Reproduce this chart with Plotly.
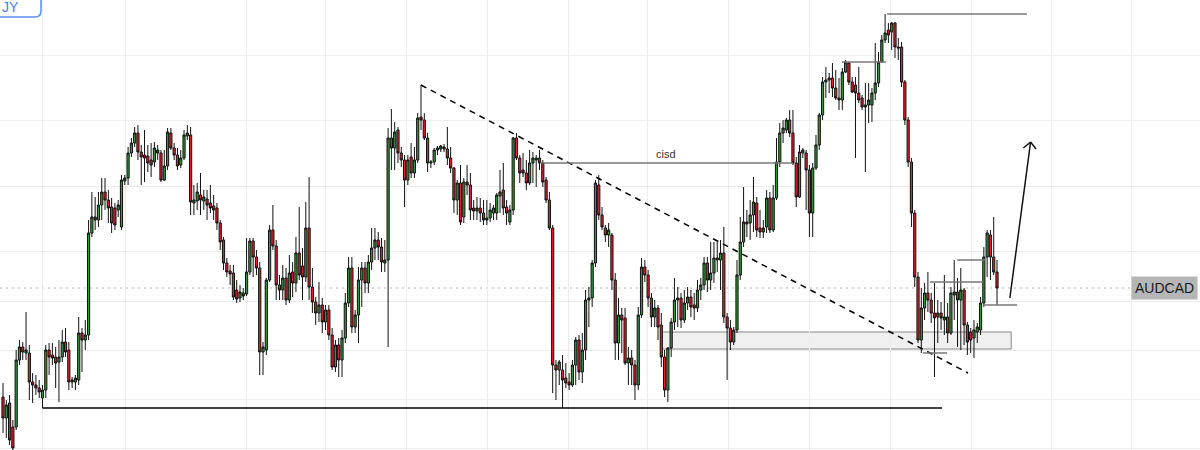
import plotly.graph_objects as go

# ---------------- data (prices in pips, 1 pip = 0.0001) ----------------
PIP = 1e-4
SYMBOL = "AUDCAD"
TOP_LEFT_TAB = "JY"
CISD_TEXT = "cisd"

open_pips = [
    9603, 9582, 9597, 9573, 9573, 9640, 9653, 9647, 9647, 9618,  # 0
    9615, 9612, 9602, 9610, 9650, 9645, 9643, 9638, 9643, 9658,  # 10
    9650, 9620, 9618, 9620, 9667, 9660, 9665, 9767, 9783, 9780,  # 20
    9795, 9808, 9800, 9793, 9792, 9790, 9773, 9819, 9822, 9847,  # 30
    9857, 9867, 9848, 9845, 9844, 9840, 9838, 9850, 9847, 9820,  # 40
    9834, 9867, 9852, 9845, 9835, 9842, 9864, 9865, 9797, 9799,  # 50
    9805, 9799, 9801, 9797, 9794, 9792, 9777, 9760, 9737, 9729,  # 60
    9727, 9710, 9702, 9707, 9706, 9728, 9759, 9743, 9732, 9648,  # 70
    9650, 9720, 9770, 9754, 9715, 9710, 9722, 9700, 9728, 9717,  # 80
    9747, 9734, 9723, 9772, 9713, 9698, 9687, 9695, 9678, 9690,  # 90
    9665, 9633, 9655, 9640, 9662, 9697, 9732, 9673, 9685, 9720,  # 100
    9732, 9717, 9738, 9752, 9760, 9753, 9737, 9740, 9862, 9852,  # 110
    9870, 9847, 9840, 9820, 9843, 9827, 9840, 9883, 9880, 9862,  # 120
    9837, 9838, 9850, 9851, 9853, 9851, 9842, 9832, 9800, 9817,  # 130
    9783, 9818, 9815, 9792, 9789, 9792, 9787, 9780, 9782, 9787,  # 140
    9787, 9804, 9810, 9793, 9778, 9790, 9862, 9842, 9830, 9827,  # 150
    9817, 9837, 9840, 9842, 9837, 9820, 9800, 9772, 9635, 9630,  # 160
    9630, 9622, 9618, 9615, 9635, 9660, 9628, 9650, 9700, 9702,  # 170
    9737, 9815, 9785, 9772, 9765, 9765, 9720, 9657, 9685, 9682,  # 180
    9637, 9642, 9635, 9615, 9685, 9733, 9725, 9702, 9683, 9692,  # 190
    9675, 9643, 9610, 9652, 9678, 9700, 9702, 9680, 9697, 9703,  # 200
    9695, 9692, 9710, 9715, 9737, 9720, 9727, 9742, 9740, 9747,  # 210
    9683, 9672, 9658, 9670, 9725, 9758, 9778, 9777, 9785, 9797,  # 220
    9772, 9768, 9773, 9802, 9770, 9802, 9838, 9867, 9870, 9880,  # 230
    9867, 9837, 9803, 9847, 9847, 9830, 9787, 9832, 9855, 9885,  # 240
    9918, 9920, 9922, 9912, 9902, 9900, 9928, 9937, 9918, 9915,  # 250
    9907, 9902, 9893, 9895, 9895, 9907, 9917, 9938, 9960, 9970,  # 260
    9968, 9977, 9953, 9953, 9918, 9880, 9838, 9787, 9723, 9660,  # 270
    9692, 9707, 9700, 9687, 9683, 9687, 9680, 9683, 9667, 9705,  # 280
    9708, 9700, 9710, 9675, 9668, 9662, 9668, 9670, 9697, 9743,  # 290
    9765, 9743, 9728,
]

high_pips = [
    9617, 9600, 9605, 9580, 9650, 9660, 9658, 9688, 9655, 9627,
    9625, 9620, 9615, 9655, 9657, 9657, 9653, 9660, 9670, 9672,
    9658, 9623, 9625, 9683, 9672, 9680, 9780, 9808, 9803, 9808,
    9822, 9822, 9810, 9802, 9797, 9800, 9825, 9825, 9853, 9862,
    9873, 9875, 9855, 9870, 9855, 9857, 9858, 9855, 9850, 9850,
    9872, 9872, 9857, 9852, 9850, 9870, 9875, 9873, 9815, 9817,
    9827, 9810, 9810, 9815, 9805, 9797, 9780, 9763, 9742, 9735,
    9735, 9720, 9715, 9712, 9762, 9762, 9762, 9750, 9738, 9658,
    9722, 9775, 9795, 9760, 9725, 9735, 9732, 9745, 9738, 9763,
    9793, 9752, 9798, 9823, 9732, 9703, 9718, 9702, 9695, 9695,
    9672, 9660, 9662, 9670, 9707, 9743, 9743, 9690, 9733, 9738,
    9738, 9745, 9772, 9772, 9768, 9762, 9760, 9872, 9891, 9878,
    9873, 9853, 9845, 9845, 9857, 9853, 9887, 9915, 9887, 9867,
    9840, 9852, 9854, 9855, 9856, 9873, 9853, 9833, 9820, 9835,
    9822, 9835, 9827, 9800, 9803, 9802, 9800, 9800, 9797, 9795,
    9807, 9830, 9837, 9800, 9795, 9863, 9867, 9845, 9847, 9840,
    9850, 9848, 9845, 9850, 9840, 9823, 9808, 9775, 9640, 9640,
    9645, 9637, 9627, 9640, 9663, 9665, 9667, 9710, 9713, 9740,
    9820, 9825, 9793, 9775, 9777, 9767, 9727, 9702, 9692, 9692,
    9653, 9650, 9640, 9693, 9742, 9740, 9730, 9707, 9700, 9695,
    9687, 9650, 9653, 9682, 9722, 9713, 9707, 9710, 9713, 9710,
    9707, 9720, 9722, 9743, 9743, 9758, 9758, 9758, 9760, 9773,
    9687, 9680, 9673, 9740, 9783, 9813, 9790, 9800, 9823, 9803,
    9790, 9780, 9810, 9808, 9815, 9862, 9877, 9880, 9882, 9890,
    9890, 9843, 9855, 9852, 9850, 9835, 9837, 9865, 9887, 9923,
    9933, 9927, 9937, 9930, 9922, 9932, 9940, 9938, 9923, 9923,
    9933, 9905, 9917, 9917, 9912, 9957, 9948, 9965, 9986, 9977,
    9978, 9978, 9962, 9958, 9920, 9883, 9842, 9790, 9728, 9712,
    9717, 9728, 9707, 9717, 9700, 9698, 9725, 9697, 9713, 9740,
    9722, 9732, 9712, 9678, 9672, 9680, 9677, 9703, 9753, 9770,
    9770, 9783, 9740,
]

low_pips = [
    9567, 9562, 9555, 9548, 9570, 9635, 9640, 9640, 9600, 9597,
    9605, 9602, 9592, 9602, 9625, 9635, 9612, 9598, 9638, 9643,
    9610, 9612, 9610, 9615, 9628, 9650, 9660, 9763, 9770, 9773,
    9780, 9790, 9777, 9767, 9770, 9783, 9770, 9815, 9815, 9843,
    9853, 9840, 9815, 9818, 9828, 9823, 9833, 9840, 9818, 9819,
    9830, 9850, 9840, 9830, 9832, 9840, 9860, 9785, 9785, 9790,
    9785, 9790, 9780, 9787, 9780, 9770, 9750, 9730, 9723, 9715,
    9700, 9697, 9698, 9700, 9704, 9725, 9723, 9725, 9625, 9625,
    9645, 9718, 9750, 9700, 9700, 9700, 9695, 9697, 9703, 9708,
    9720, 9700, 9718, 9700, 9687, 9675, 9678, 9667, 9670, 9660,
    9630, 9628, 9623, 9623, 9657, 9693, 9667, 9667, 9657, 9693,
    9707, 9707, 9730, 9740, 9740, 9728, 9728, 9653, 9830, 9830,
    9837, 9833, 9793, 9815, 9822, 9822, 9837, 9870, 9860, 9828,
    9832, 9835, 9845, 9848, 9848, 9835, 9827, 9787, 9785, 9775,
    9777, 9805, 9780, 9780, 9780, 9778, 9775, 9775, 9778, 9780,
    9780, 9787, 9785, 9775, 9775, 9785, 9840, 9817, 9823, 9810,
    9815, 9817, 9813, 9830, 9813, 9797, 9770, 9607, 9600, 9615,
    9592, 9612, 9610, 9613, 9615, 9620, 9617, 9640, 9673, 9693,
    9733, 9780, 9770, 9758, 9753, 9710, 9640, 9640, 9647, 9635,
    9615, 9615, 9600, 9610, 9682, 9718, 9693, 9673, 9673, 9660,
    9633, 9603, 9598, 9643, 9670, 9673, 9672, 9677, 9690, 9683,
    9680, 9688, 9700, 9710, 9708, 9710, 9717, 9728, 9710, 9677,
    9620, 9650, 9655, 9667, 9720, 9753, 9763, 9760, 9768, 9763,
    9762, 9762, 9767, 9767, 9768, 9800, 9833, 9857, 9867, 9863,
    9835, 9793, 9802, 9842, 9790, 9763, 9763, 9830, 9850, 9880,
    9902, 9907, 9903, 9900, 9890, 9890, 9927, 9915, 9907, 9842,
    9897, 9890, 9828, 9877, 9878, 9900, 9913, 9937, 9957, 9957,
    9950, 9942, 9940, 9913, 9875, 9833, 9773, 9713, 9657, 9647,
    9680, 9688, 9677, 9623, 9657, 9670, 9665, 9657, 9665, 9680,
    9653, 9650, 9655, 9645, 9647, 9642, 9657, 9665, 9693, 9723,
    9720, 9725, 9695,
]

close_pips = [
    9582, 9595, 9560, 9552, 9640, 9653, 9648, 9650, 9618, 9615,
    9612, 9608, 9610, 9650, 9643, 9642, 9637, 9643, 9658, 9648,
    9618, 9618, 9622, 9667, 9660, 9665, 9767, 9783, 9780, 9795,
    9808, 9800, 9792, 9777, 9775, 9795, 9820, 9822, 9847, 9857,
    9867, 9848, 9843, 9842, 9837, 9835, 9852, 9847, 9820, 9834,
    9868, 9852, 9845, 9834, 9842, 9865, 9867, 9798, 9800, 9808,
    9800, 9803, 9795, 9792, 9790, 9777, 9758, 9737, 9728, 9726,
    9703, 9701, 9708, 9704, 9728, 9759, 9743, 9732, 9648, 9653,
    9720, 9770, 9754, 9715, 9710, 9722, 9700, 9727, 9717, 9747,
    9725, 9723, 9772, 9713, 9698, 9687, 9695, 9678, 9690, 9665,
    9633, 9655, 9640, 9662, 9697, 9732, 9673, 9685, 9720, 9732,
    9717, 9738, 9752, 9760, 9753, 9738, 9740, 9862, 9852, 9868,
    9847, 9840, 9820, 9840, 9827, 9840, 9882, 9880, 9862, 9837,
    9838, 9850, 9852, 9854, 9851, 9842, 9832, 9800, 9817, 9778,
    9818, 9815, 9790, 9789, 9792, 9787, 9780, 9782, 9790, 9792,
    9805, 9808, 9792, 9787, 9790, 9862, 9842, 9827, 9827, 9817,
    9837, 9842, 9842, 9837, 9818, 9800, 9772, 9635, 9630, 9638,
    9620, 9617, 9615, 9635, 9660, 9628, 9650, 9700, 9702, 9737,
    9817, 9785, 9773, 9765, 9770, 9720, 9657, 9685, 9680, 9637,
    9642, 9635, 9615, 9685, 9733, 9725, 9702, 9683, 9692, 9673,
    9643, 9610, 9652, 9678, 9700, 9702, 9680, 9697, 9703, 9693,
    9692, 9710, 9715, 9737, 9720, 9727, 9742, 9740, 9747, 9683,
    9672, 9658, 9670, 9725, 9758, 9778, 9776, 9785, 9798, 9770,
    9768, 9772, 9802, 9770, 9802, 9838, 9867, 9872, 9880, 9867,
    9837, 9803, 9848, 9850, 9830, 9787, 9832, 9855, 9885, 9918,
    9920, 9922, 9912, 9902, 9900, 9928, 9938, 9918, 9908, 9907,
    9900, 9893, 9895, 9900, 9907, 9917, 9938, 9960, 9967, 9965,
    9977, 9953, 9952, 9918, 9880, 9838, 9787, 9723, 9660, 9692,
    9707, 9700, 9687, 9682, 9687, 9682, 9683, 9667, 9707, 9708,
    9700, 9710, 9675, 9658, 9660, 9670, 9673, 9697, 9743, 9767,
    9743, 9728, 9712,
]

opens = [v * PIP for v in open_pips]
highs = [v * PIP for v in high_pips]
lows = [v * PIP for v in low_pips]
closes = [v * PIP for v in close_pips]
bars = list(range(len(closes)))

# ---------------- drawing levels (price / bar index) ----------------
support_level = lows[12]
trend_start = (127, highs[127])
trend_end = (293.2, 0.9627)
cisd_level = 0.9837
top_level = highs[268]
sub_top_level = 0.9938
struct_levels = [(0.9740, 289.9, 298.3), (0.9718, 281.6, 297.7),
                 (0.9695, 297.7, 308.1), (0.9647, 279.5, 286.8)]
zone = (200.2, 306.3, 0.9651, 0.9668)
last_price = closes[-1]

grid_x = [12.15, 37.07, 73.83, 98.13, 122.74, 147.05, 171.66, 195.96,
          220.27, 244.88, 269.49, 294.10, 318.40, 343.0]
grid_y = [0.9945, 0.9880, 0.9814, 0.9749, 0.9699, 0.9650, 0.9601, 0.9552]

GREEN = "#34963a"
RED = "#e3202d"
EDGE = "#111111"
GRAY = "#777777"

fig = go.Figure()
fig.add_trace(go.Candlestick(
    x=bars, open=opens, high=highs, low=lows, close=closes,
    increasing=dict(line=dict(color=EDGE, width=1), fillcolor=GREEN),
    decreasing=dict(line=dict(color=EDGE, width=1), fillcolor=RED),
    whiskerwidth=0, showlegend=False, hoverinfo="skip",
))

shapes = []
# zone
shapes.append(dict(type="rect", x0=zone[0], x1=zone[1], y0=zone[2], y1=zone[3],
                   fillcolor="#f0f0f0", line=dict(color="#888888", width=1), layer="below"))
# price line (dotted)
shapes.append(dict(type="line", xref="paper", x0=0, x1=1, y0=last_price, y1=last_price,
                   line=dict(color="#b0b0b0", width=1, dash="2px,4px"), layer="below"))
# support line
shapes.append(dict(type="line", x0=12, x1=285.3, y0=support_level, y1=support_level,
                   line=dict(color="#000000", width=1.6)))
# trend line
shapes.append(dict(type="line", x0=trend_start[0], y0=trend_start[1], x1=trend_end[0], y1=trend_end[1],
                   line=dict(color="#000000", width=1.5, dash="6px,5px")))
# cisd
shapes.append(dict(type="line", x0=163.2, x1=240.0, y0=cisd_level, y1=cisd_level,
                   line=dict(color=GRAY, width=1.5)))
# top levels
shapes.append(dict(type="line", x0=268.6, x1=311.1, y0=top_level, y1=top_level,
                   line=dict(color=GRAY, width=1.5)))
shapes.append(dict(type="line", x0=254.9, x1=268.3, y0=sub_top_level, y1=sub_top_level,
                   line=dict(color=GRAY, width=1.5)))
for lvl, a, b in struct_levels:
    shapes.append(dict(type="line", x0=a, x1=b, y0=lvl, y1=lvl,
                       line=dict(color=GRAY, width=1.5)))
# arrow
arrow_base = (305.9, 0.9702)
arrow_tip = (312.2, 0.9858)
shapes.append(dict(type="line", x0=arrow_base[0], y0=arrow_base[1], x1=arrow_tip[0], y1=arrow_tip[1],
                   line=dict(color="#111111", width=1.5)))
shapes.append(dict(type="line", x0=arrow_tip[0], y0=arrow_tip[1], x1=310.0, y1=0.9852,
                   line=dict(color="#111111", width=1.5)))
shapes.append(dict(type="line", x0=arrow_tip[0], y0=arrow_tip[1], x1=313.85, y1=0.9851,
                   line=dict(color="#111111", width=1.5)))
# top-left tab (rounded bottom-right corner)
shapes.append(dict(type="path", xref="paper", yref="paper",
                   path="M -0.02,1.05 L 0.03417,1.05 L 0.03417,0.97556 Q 0.03417,0.96222 0.02917,0.96222 L -0.02,0.96222 Z",
                   fillcolor="white", line=dict(color="#5b8def", width=1.5)))

annotations = [
    dict(x=201.5, y=cisd_level, text=CISD_TEXT, showarrow=False, yanchor="bottom", yshift=1,
         font=dict(family="Liberation Sans, Arial, sans-serif", size=11, color="#333333")),
    dict(xref="paper", x=0.9985, y=last_price, text=SYMBOL, showarrow=False,
         xanchor="right", yanchor="middle", bgcolor="#b6b6b6", borderpad=3,
         font=dict(family="Liberation Sans, Arial, sans-serif", size=14, color="#1a1a1a")),
    dict(xref="paper", yref="paper", x=0.0, y=1 - 7 / 450, text=TOP_LEFT_TAB, showarrow=False,
         xanchor="left", yanchor="middle",
         font=dict(family="Liberation Sans, Arial, sans-serif", size=14, color="#4a7fe6")),
]

fig.update_layout(
    width=1200, height=450,
    margin=dict(l=0, r=0, t=0, b=0),
    paper_bgcolor="white", plot_bgcolor="white",
    showlegend=False,
    boxgap=0.05,
    shapes=shapes, annotations=annotations,
    xaxis=dict(range=[-0.9115, 363.67], tickvals=grid_x, showticklabels=False, ticks="",
               showgrid=True, gridcolor="#ececec", gridwidth=1, zeroline=False, showline=False,
               rangeslider=dict(visible=False), fixedrange=True),
    yaxis=dict(range=[0.9550, 1.0000], tickvals=grid_y, showticklabels=False, ticks="",
               showgrid=True, gridcolor="#ececec", gridwidth=1, zeroline=False, showline=False,
               fixedrange=True),
)

fig.write_html("out.html", config={"displayModeBar": False},
               post_script="document.body.style.margin='0';document.body.style.overflow='hidden';")
